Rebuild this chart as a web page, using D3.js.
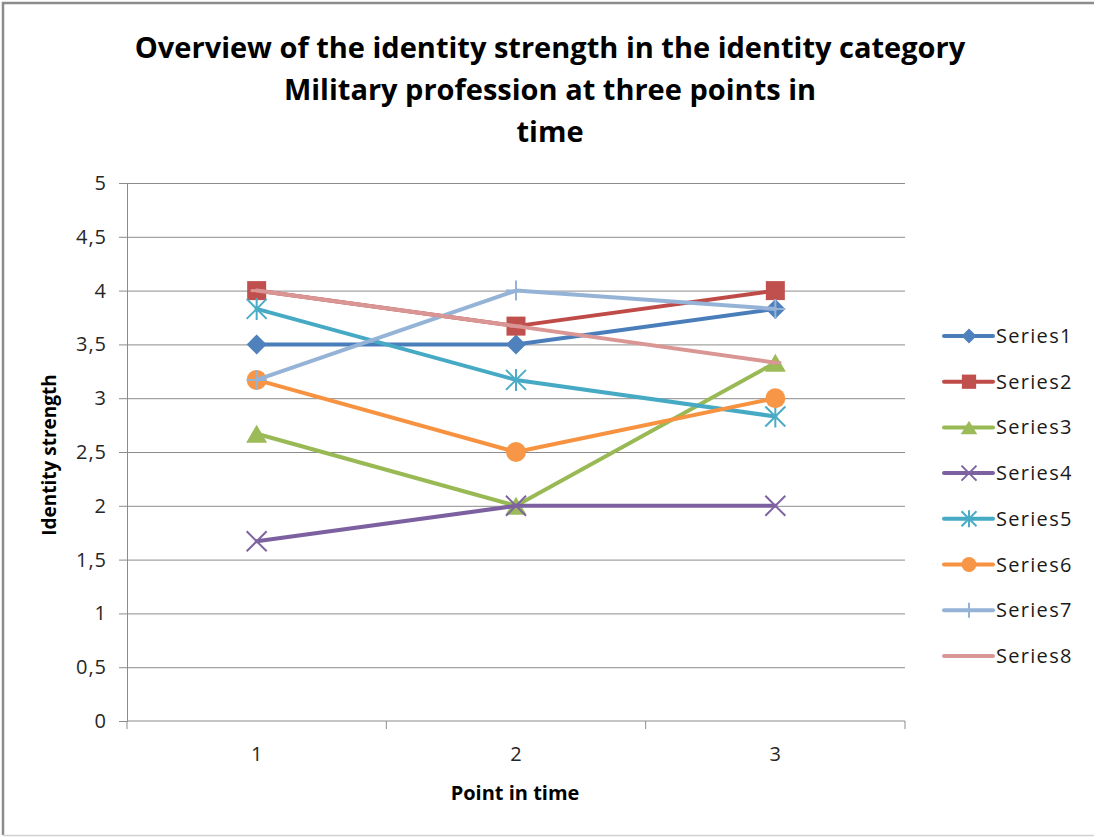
<!DOCTYPE html>
<html>
<head>
<meta charset="utf-8">
<script src="https://cdn.jsdelivr.net/npm/d3@7"></script>
<style>
  html, body { margin: 0; padding: 0; background: #fff; }
  svg { display: block; font-family: "Open Sans", Lato, sans-serif; }
</style>
</head>
<body>
<svg id="chart" width="1094" height="837"></svg>
<script>
// Identity strength per series at each point in time
const categories = ["1", "2", "3"];
const seriesNames = ["Series1", "Series2", "Series3", "Series4", "Series5", "Series6", "Series7", "Series8"];
const series1 = [3.5, 3.5, 3.83];
const series2 = [4, 3.67, 4];
const series3 = [2.67, 2, 3.33];
const series4 = [1.67, 2, 2];
const series5 = [3.83, 3.17, 2.83];
const series6 = [3.17, 2.5, 3];
const series7 = [3.17, 4, 3.83];
const series8 = [4, 3.67, 3.33];
const yTicks = [0, 0.5, 1, 1.5, 2, 2.5, 3, 3.5, 4, 4.5, 5];
const titleLines = ["Overview of the identity strength in the identity category", "Military profession at three points in", "time"];

const seriesValues = [series1, series2, series3, series4, series5, series6, series7, series8];
const lineColors = ["#4A7EBB", "#BE4B48", "#98B954", "#7D60A0", "#46AAC5", "#F69240", "#95B3D7", "#D99694"];
const markerColors = ["#4F81BD", "#C0504D", "#9BBB59", "#8064A2", "#4BACC6", "#F79646", "#95B3D7", "#D99694"];
const markerKinds = ["diamond", "square", "triangle", "x", "star", "circle", "plus", "dash"];

const svg = d3.select("#chart");

// Outer chart frame
svg.append("path")
  .attr("d", "M1094,3 H3 V835")
  .attr("fill", "none").attr("stroke", "#8c8c8c").attr("stroke-width", 2.5);
svg.append("line")
  .attr("x1", 3).attr("x2", 1094).attr("y1", 835.5).attr("y2", 835.5)
  .attr("stroke", "#d0d0d0").attr("stroke-width", 1.5);

const plot = { left: 127, right: 905, top: 183, bottom: 721 };

const x = d3.scaleBand().domain(categories).range([plot.left, plot.right]).padding(0);
const cx = c => x(c) + x.bandwidth() / 2;
const y = d3.scaleLinear().domain([0, 5]).range([plot.bottom, plot.top]);

// Title
svg.append("text")
  .attr("x", 550).attr("y", 58)
  .attr("text-anchor", "middle")
  .attr("font-weight", "bold").attr("font-size", 29).attr("fill", "#000")
  .selectAll("tspan").data(titleLines).join("tspan")
  .attr("x", 550).attr("dy", (d, i) => i === 0 ? 0 : 42)
  .text(d => d);

// Horizontal gridlines
svg.append("g")
  .attr("transform", `translate(${plot.left},0)`)
  .call(d3.axisLeft(y).tickValues(yTicks.filter(t => t > 0)).tickSize(-(plot.right - plot.left)).tickFormat(""))
  .call(g => g.select(".domain").remove())
  .call(g => g.selectAll(".tick line").attr("stroke", "#8c8c8c").attr("stroke-width", 1));

// Y axis
svg.append("g")
  .attr("transform", `translate(${plot.left},0)`)
  .call(d3.axisLeft(y).tickValues(yTicks).tickSize(8).tickPadding(12)
    .tickFormat(d => String(d).replace(".", ",")))
  .call(g => g.select(".domain").attr("stroke", "#8c8c8c"))
  .call(g => g.selectAll(".tick line").attr("stroke", "#8c8c8c"))
  .call(g => g.selectAll(".tick text").attr("font-size", 20).attr("letter-spacing", 1).attr("fill", "#262626")
    .attr("font-family", "'Open Sans', sans-serif"));

// X axis: labels centred in each category, tick marks on category edges
const xAxis = svg.append("g").attr("transform", `translate(0,${plot.bottom})`);
xAxis.call(d3.axisBottom(x).tickSize(0).tickPadding(26))
  .call(g => g.select(".domain").remove())
  .call(g => g.selectAll(".tick text").attr("font-size", 20).attr("fill", "#262626")
    .attr("font-family", "'Open Sans', sans-serif"));
xAxis.append("line")
  .attr("x1", plot.left).attr("x2", plot.right).attr("y1", 0).attr("y2", 0)
  .attr("stroke", "#8c8c8c");
const edges = categories.map(c => x(c)).concat([x(categories[categories.length - 1]) + x.bandwidth()]);
xAxis.selectAll(".edge").data(edges).join("line")
  .attr("class", "edge")
  .attr("x1", d => d).attr("x2", d => d).attr("y1", 0).attr("y2", 8)
  .attr("stroke", "#8c8c8c");

// Axis titles
svg.append("text")
  .attr("x", 515).attr("y", 800)
  .attr("text-anchor", "middle").attr("font-weight", "bold").attr("font-size", 20)
  .attr("fill", "#000").text("Point in time");
svg.append("text")
  .attr("transform", "translate(56,455) rotate(-90)")
  .attr("text-anchor", "middle").attr("font-weight", "bold").attr("font-size", 19)
  .attr("fill", "#000").text("Identity strength");

// Marker drawing
function drawMarker(g, kind, color, s) {
  switch (kind) {
    case "diamond":
      g.append("path").attr("d", `M0,${-s}L${s},0L0,${s}L${-s},0Z`).attr("fill", color);
      break;
    case "square":
      g.append("rect").attr("x", -s).attr("y", -s).attr("width", 2 * s).attr("height", 2 * s).attr("fill", color);
      break;
    case "triangle":
      g.append("path").attr("d", `M0,${-s}L${s + 1.5},${s}L${-s - 1.5},${s}Z`).attr("fill", color);
      break;
    case "circle":
      g.append("circle").attr("r", s).attr("fill", color);
      break;
    case "x":
      g.append("path").attr("d", `M${-s},${-s}L${s},${s}M${-s},${s}L${s},${-s}`)
        .attr("stroke", color).attr("stroke-width", 2).attr("fill", "none");
      break;
    case "star":
      g.append("path").attr("d", `M${-s},${-s}L${s},${s}M${-s},${s}L${s},${-s}M0,${-s - 1}L0,${s + 1}`)
        .attr("stroke", color).attr("stroke-width", 2).attr("fill", "none");
      break;
    case "plus":
      g.append("path").attr("d", `M0,${-s}L0,${s}M${-s},0L${s},0`)
        .attr("stroke", color).attr("stroke-width", 2).attr("fill", "none");
      break;
    case "dash":
      g.append("path").attr("d", `M${-s},0L${s},0`)
        .attr("stroke", color).attr("stroke-width", 3).attr("fill", "none");
      break;
  }
}

const markerSize = { diamond: 10, square: 9.5, triangle: 9, circle: 10, x: 10, star: 10, plus: 10, dash: 6 };

const line = d3.line().x((d, i) => cx(categories[i])).y(d => y(d));

seriesValues.forEach((vals, si) => {
  const g = svg.append("g").attr("class", "series");
  g.append("path").datum(vals)
    .attr("d", line)
    .attr("fill", "none")
    .attr("stroke", lineColors[si])
    .attr("stroke-width", 4)
    .attr("stroke-linejoin", "round")
    .attr("stroke-linecap", "round");
  vals.forEach((v, i) => {
    const m = g.append("g").attr("transform", `translate(${cx(categories[i])},${y(v)})`);
    drawMarker(m, markerKinds[si], markerColors[si], markerSize[markerKinds[si]]);
  });
});

// Legend
const legend = svg.append("g").attr("transform", "translate(944,336)");
seriesNames.forEach((name, si) => {
  const row = legend.append("g").attr("transform", `translate(0,${si * 45.7})`);
  row.append("line").attr("x1", 0).attr("x2", 49).attr("y1", 0).attr("y2", 0)
    .attr("stroke", lineColors[si]).attr("stroke-width", 4).attr("stroke-linecap", "round");
  const m = row.append("g").attr("transform", "translate(25,0)");
  drawMarker(m, markerKinds[si], markerColors[si], markerSize[markerKinds[si]] * 0.75);
  row.append("text").attr("x", 52).attr("y", 0).attr("dy", "0.35em")
    .attr("font-size", 20).attr("letter-spacing", 1.3).attr("fill", "#1a1a1a").text(name);
});
</script>
</body>
</html>
